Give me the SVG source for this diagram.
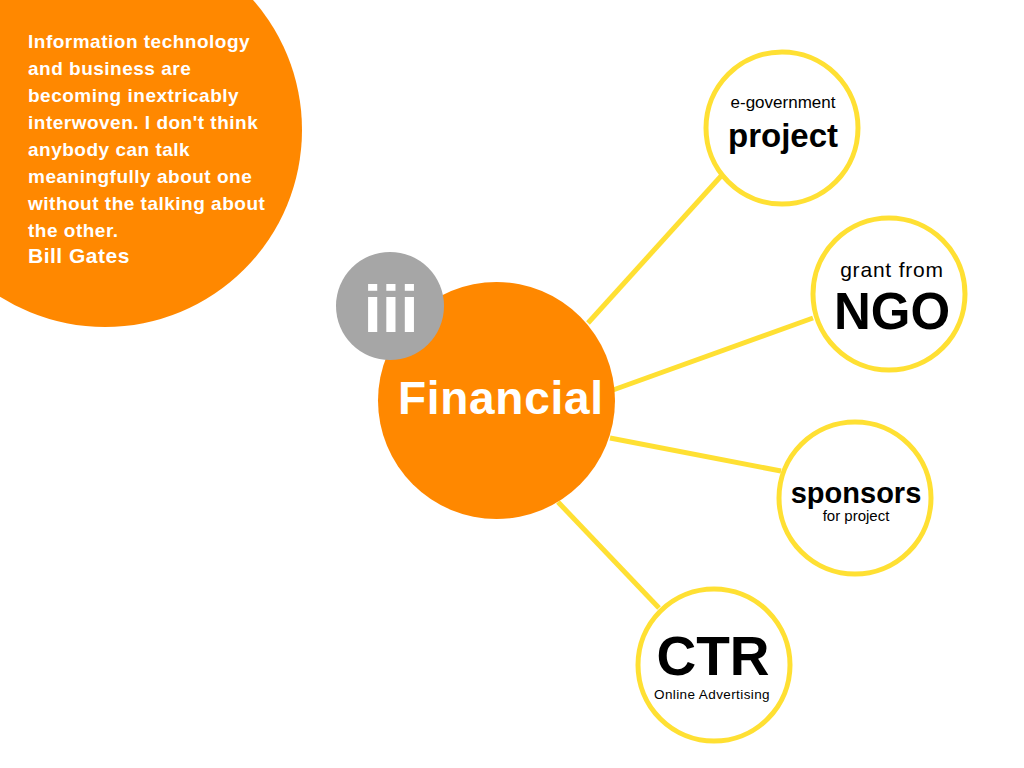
<svg xmlns="http://www.w3.org/2000/svg" width="1024" height="768" viewBox="0 0 1024 768">
<style>
.bg{fill:#ffffff}
.orange{fill:#ff8800}
.gray{fill:#a6a6a6}
.leaf{fill:#ffffff;stroke:#ffe033;stroke-width:5}
.conn{stroke:#ffe033;stroke-width:5;fill:none}
.w{fill:#ffffff;font-family:"Liberation Sans",Arial,sans-serif;font-weight:bold}
.k{fill:#000000;font-family:"Liberation Sans",Arial,sans-serif}
.b{font-weight:bold}
</style>
<rect class="bg" x="0" y="0" width="1024" height="768"/>
<g id="quote">
<circle class="orange" cx="105" cy="130" r="197"/>
<text class="w" font-size="19" letter-spacing="0.5">
<tspan x="28" y="48">Information technology</tspan>
<tspan x="28" y="75">and business are</tspan>
<tspan x="28" y="102">becoming inextricably</tspan>
<tspan x="28" y="129">interwoven. I don't think</tspan>
<tspan x="28" y="156">anybody can talk</tspan>
<tspan x="28" y="183">meaningfully about one</tspan>
<tspan x="28" y="210">without the talking about</tspan>
<tspan x="28" y="237">the other.</tspan>
</text>
<text class="w" font-size="21" letter-spacing="0.5" x="28" y="263">Bill Gates</text>
</g>
<g id="connectors">
<line class="conn" x1="588" y1="323" x2="722" y2="175"/>
<line class="conn" x1="613" y1="390" x2="813" y2="318"/>
<line class="conn" x1="610" y1="438" x2="781" y2="471"/>
<line class="conn" x1="558" y1="502" x2="659" y2="608"/>
</g>
<g id="financial">
<circle class="orange" cx="496.5" cy="400.5" r="118.5"/>
<text class="w" font-size="46" x="398" y="414" textLength="205" lengthAdjust="spacing">Financial</text>
</g>
<g id="badge">
<circle class="gray" cx="390" cy="306" r="54"/>
<text class="w" font-size="66" x="391" y="332" text-anchor="middle">iii</text>
</g>
<g id="node-project">
<circle class="leaf" cx="782" cy="128" r="76"/>
<text class="k" font-size="17" x="783" y="108" text-anchor="middle">e-government</text>
<text class="k b" font-size="33" x="783" y="147" text-anchor="middle">project</text>
</g>
<g id="node-ngo">
<circle class="leaf" cx="889" cy="294" r="76"/>
<text class="k" font-size="21" letter-spacing="0.8" x="892" y="277" text-anchor="middle">grant from</text>
<text class="k b" font-size="51" x="892" y="329" text-anchor="middle">NGO</text>
</g>
<g id="node-sponsors">
<circle class="leaf" cx="855" cy="498" r="76"/>
<text class="k b" font-size="29" x="856" y="503" text-anchor="middle">sponsors</text>
<text class="k" font-size="15" x="856" y="521" text-anchor="middle">for project</text>
</g>
<g id="node-ctr">
<circle class="leaf" cx="714" cy="665" r="76"/>
<text class="k b" font-size="55" x="713" y="675" text-anchor="middle">CTR</text>
<text class="k" font-size="13.5" letter-spacing="0.4" x="712" y="699" text-anchor="middle">Online Advertising</text>
</g>
</svg>
